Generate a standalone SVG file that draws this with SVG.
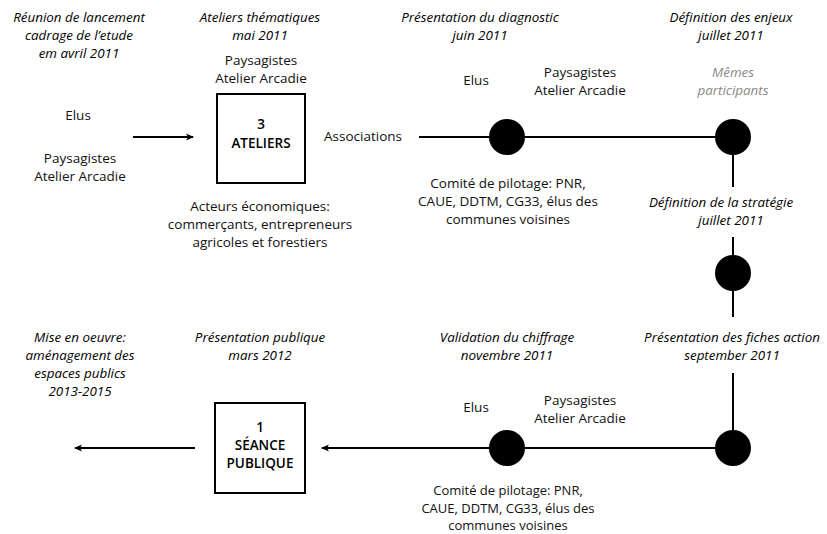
<svg xmlns="http://www.w3.org/2000/svg" width="827" height="534" viewBox="0 0 827 534">
<defs>
<style>
text{font-family:"Open Sans","Noto Sans",sans-serif;font-size:13.5px;fill:#111;text-anchor:middle}
.t{font-style:italic;font-weight:500;font-size:13.4px;fill:#000}
.g{font-style:italic;fill:#888;font-size:13.4px}
.b{font-weight:600;fill:#000;font-size:13.5px}
.s{font-size:13px}
.ln{stroke:#000;stroke-width:2;fill:none}
.box{stroke:#000;stroke-width:2;fill:#fff}
.dot{fill:#000}
</style>
<marker id="ah" markerWidth="10" markerHeight="10" refX="8" refY="5" orient="auto" markerUnits="userSpaceOnUse">
<path d="M1,1.5 L9,5 L1,8.5 L3,5 Z" fill="#000"/>
</marker>
</defs>
<rect width="827" height="534" fill="#fff"/>

<g id="connectors">
<line class="ln" x1="133" y1="137" x2="193" y2="137" marker-end="url(#ah)"/>
<line class="ln" x1="419" y1="137" x2="733" y2="137"/>
<line class="ln" x1="733" y1="137" x2="733" y2="187"/>
<line class="ln" x1="733" y1="237" x2="733" y2="317"/>
<line class="ln" x1="733" y1="373" x2="733" y2="448"/>
<line class="ln" x1="733" y1="448" x2="322" y2="448" marker-end="url(#ah)"/>
<line class="ln" x1="195" y1="448" x2="75" y2="448" marker-end="url(#ah)"/>
</g>

<g id="n-reunion">
<text class="t" x="79" y="22">Réunion de lancement</text>
<text class="t" x="79" y="40">cadrage de l’etude</text>
<text class="t" x="79" y="58">em avril 2011</text>
<text x="78" y="120">Elus</text>
<text x="80" y="163">Paysagistes</text>
<text x="80" y="181">Atelier Arcadie</text>
</g>

<g id="n-ateliers">
<text class="t" x="260" y="22">Ateliers thématiques</text>
<text class="t" x="260" y="40">mai 2011</text>
<text x="261" y="65">Paysagistes</text>
<text x="261" y="83">Atelier Arcadie</text>
<rect class="box" x="217" y="94" width="88" height="89"/>
<text class="b" x="261" y="129">3</text>
<text class="b" x="261" y="148">ATELIERS</text>
<text x="363" y="141">Associations</text>
<text x="260" y="211">Acteurs économiques:</text>
<text x="260" y="229">commerçants, entrepreneurs</text>
<text x="260" y="247">agricoles et forestiers</text>
</g>

<g id="n-diagnostic">
<text class="t" x="480" y="22">Présentation du diagnostic</text>
<text class="t" x="480" y="40">juin 2011</text>
<text x="476" y="85">Elus</text>
<text x="580" y="77">Paysagistes</text>
<text x="580" y="95">Atelier Arcadie</text>
<circle class="dot" cx="507" cy="137" r="18"/>
<text x="508" y="188">Comité de pilotage: PNR,</text>
<text x="508" y="206">CAUE, DDTM, CG33, élus des</text>
<text x="508" y="224">communes voisines</text>
</g>

<g id="n-enjeux">
<text class="t" x="731" y="22">Définition des enjeux</text>
<text class="t" x="731" y="40">juillet 2011</text>
<text class="g" x="733" y="77">Mêmes</text>
<text class="g" x="733" y="95">participants</text>
<circle class="dot" cx="733" cy="137" r="18"/>
</g>

<g id="n-strategie">
<text class="t" x="721" y="207">Définition de la stratégie</text>
<text class="t" x="731" y="225">juillet 2011</text>
<circle class="dot" cx="733" cy="273" r="18"/>
</g>

<g id="n-fiches">
<text class="t" x="732" y="342">Présentation des fiches action</text>
<text class="t" x="732" y="360">september 2011</text>
<circle class="dot" cx="733" cy="448" r="18"/>
</g>

<g id="n-chiffrage">
<text class="t" x="507" y="342">Validation du chiffrage</text>
<text class="t" x="507" y="360">novembre 2011</text>
<text x="476" y="412">Elus</text>
<text x="580" y="405">Paysagistes</text>
<text x="580" y="423">Atelier Arcadie</text>
<circle class="dot" cx="507" cy="448" r="18"/>
<text class="s" x="508" y="495">Comité de pilotage: PNR,</text>
<text class="s" x="508" y="513">CAUE, DDTM, CG33, élus des</text>
<text class="s" x="508" y="530">communes voisines</text>
</g>

<g id="n-publique">
<text class="t" x="260" y="342">Présentation publique</text>
<text class="t" x="260" y="360">mars 2012</text>
<rect class="box" x="215" y="403" width="90" height="90"/>
<text class="b" x="260" y="432">1</text>
<text class="b" x="260" y="450">SÉANCE</text>
<text class="b" x="260" y="468">PUBLIQUE</text>
</g>

<g id="n-oeuvre">
<text class="t" x="80" y="342">Mise en oeuvre:</text>
<text class="t" x="80" y="360">aménagement des</text>
<text class="t" x="80" y="378">espaces publics</text>
<text class="t" x="80" y="396">2013-2015</text>
</g>
</svg>
